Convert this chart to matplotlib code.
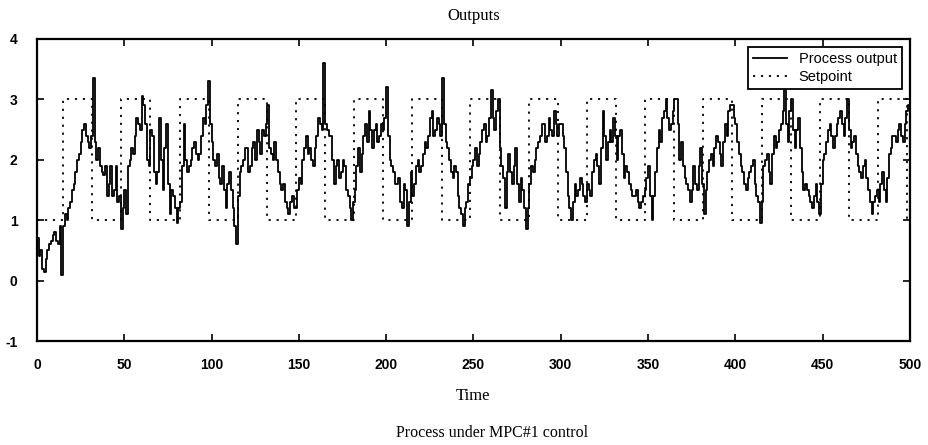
import numpy as np
import matplotlib
matplotlib.use("Agg")
import matplotlib.pyplot as plt

# process output: even time steps ...
t_even = np.arange(0, 501, 2)
y_even = [
    0.7, 0.5, 0.15, 0.5, 0.65, 0.8, 0.6, 0.1, 1.1, 1.2,
    1.5, 1.8, 2.1, 2.5, 2.4, 2.2, 3.35, 2.0, 1.9, 1.75,
    1.4, 1.9, 1.5, 1.3, 0.85, 1.5, 1.9, 2.2, 2.4, 2.6,
    3.05, 2.6, 1.9, 2.4, 1.6, 2.7, 1.5, 2.6, 1.1, 1.4,
    0.95, 1.3, 2.6, 1.8, 2.0, 2.3, 2.0, 2.4, 2.6, 3.3,
    2.3, 1.9, 1.7, 1.9, 1.2, 1.8, 1.2, 0.6, 1.8, 2.0,
    2.2, 1.9, 2.3, 2.5, 2.1, 2.4, 2.9, 2.1, 2.3, 1.8,
    1.5, 1.3, 1.1, 1.4, 1.2, 1.7, 2.0, 2.4, 2.2, 1.9,
    2.4, 2.6, 3.6, 2.5, 2.4, 1.6, 2.0, 1.8, 1.9, 1.4,
    1.0, 1.5, 2.2, 2.1, 2.6, 2.8, 2.2, 2.6, 2.4, 2.5,
    3.2, 2.0, 1.8, 1.6, 1.3, 1.6, 0.9, 1.8, 1.6, 2.0,
    1.9, 2.3, 2.4, 2.8, 2.5, 2.6, 3.35, 2.3, 2.0, 1.7,
    1.8, 1.2, 0.9, 1.3, 1.7, 2.0, 1.9, 2.3, 2.6, 2.4,
    3.15, 2.5, 3.0, 1.9, 1.2, 2.1, 1.6, 2.2, 1.3, 1.5,
    0.85, 1.6, 1.8, 2.2, 2.4, 2.6, 2.4, 2.5, 2.8, 2.4,
    2.6, 2.2, 1.4, 1.0, 1.6, 1.5, 1.6, 1.3, 1.5, 1.8,
    2.1, 1.6, 2.8, 2.0, 2.5, 2.7, 2.0, 2.5, 1.7, 1.8,
    1.5, 1.4, 1.3, 1.3, 1.5, 1.9, 1.0, 1.8, 2.5, 2.7,
    3.0, 2.5, 2.8, 3.0, 2.0, 1.9, 1.6, 1.3, 1.9, 1.5,
    2.2, 1.1, 1.8, 2.1, 2.2, 2.3, 1.9, 2.6, 2.8, 2.9,
    2.6, 2.1, 1.8, 1.5, 1.8, 2.0, 1.4, 0.95, 1.9, 2.1,
    1.6, 2.4, 2.3, 2.6, 3.2, 2.3, 3.0, 2.2, 2.7, 1.8,
    1.6, 1.4, 1.2, 1.6, 1.1, 2.0, 2.3, 2.6, 2.2, 2.6,
    2.8, 2.4, 3.0, 2.2, 2.4, 1.9, 1.7, 2.0, 1.5, 1.1,
    1.4, 1.3, 1.8, 1.3, 2.1, 2.4, 2.3, 2.6, 2.3, 2.8,
    3.0,
]
# ... and odd time steps
t_odd = np.arange(1, 500, 2)
y_odd = [
    0.4, 0.2, 0.35, 0.6, 0.75, 0.65, 0.9, 0.9, 1.0, 1.3,
    1.6, 2.0, 2.3, 2.6, 2.3, 2.4, 2.3, 2.2, 1.8, 1.9,
    1.6, 1.4, 1.9, 1.4, 1.2, 1.1, 2.0, 2.1, 2.7, 2.5,
    2.9, 2.0, 2.5, 1.8, 1.8, 2.0, 2.2, 1.6, 1.5, 1.2,
    1.2, 1.9, 2.0, 1.9, 2.2, 2.1, 2.1, 2.7, 2.9, 2.6,
    2.0, 2.1, 1.6, 1.5, 1.6, 1.5, 0.9, 1.4, 1.9, 2.2,
    1.8, 2.2, 2.0, 2.3, 2.5, 2.6, 2.2, 2.0, 2.0, 1.6,
    1.6, 1.2, 1.3, 1.2, 1.5, 1.6, 2.2, 2.1, 2.0, 2.2,
    2.7, 2.5, 2.6, 2.4, 2.0, 1.9, 1.7, 2.0, 1.5, 1.2,
    1.3, 1.9, 1.8, 2.4, 2.3, 2.5, 2.5, 2.3, 2.6, 2.7,
    2.4, 1.9, 1.6, 1.7, 1.2, 1.5, 1.3, 1.4, 1.9, 1.8,
    2.1, 2.2, 2.7, 2.4, 2.7, 2.4, 2.6, 2.2, 1.8, 1.9,
    1.4, 1.1, 1.2, 1.6, 1.9, 2.2, 2.1, 2.5, 2.3, 2.7,
    2.7, 2.8, 2.2, 1.7, 1.8, 1.8, 1.9, 1.6, 1.7, 1.2,
    1.2, 1.9, 2.0, 2.3, 2.6, 2.3, 2.7, 2.4, 2.6, 2.6,
    2.4, 1.8, 1.2, 1.3, 1.4, 1.7, 1.4, 1.6, 1.4, 2.0,
    1.9, 2.2, 2.4, 2.3, 2.3, 2.4, 2.4, 2.1, 1.9, 1.6,
    1.4, 1.5, 1.2, 1.4, 1.7, 1.4, 1.4, 2.2, 2.3, 2.8,
    2.7, 2.6, 3.0, 2.6, 2.3, 1.7, 1.5, 1.5, 1.6, 1.9,
    1.6, 1.5, 2.0, 1.9, 2.4, 2.1, 2.3, 2.4, 2.9, 2.7,
    2.3, 1.9, 1.6, 1.7, 1.9, 1.6, 1.3, 1.3, 2.0, 1.8,
    2.1, 2.2, 2.5, 2.8, 2.6, 2.8, 2.5, 2.5, 2.2, 1.5,
    1.5, 1.3, 1.4, 1.3, 1.6, 2.1, 2.5, 2.4, 2.4, 2.7,
    2.6, 2.7, 2.5, 2.3, 2.1, 1.8, 1.9, 1.7, 1.3, 1.3,
    1.5, 1.6, 1.5, 1.7, 2.2, 2.4, 2.5, 2.4, 2.6, 2.9,
]

# setpoint switching times and levels
sp_t = [0, 15, 31.7, 48.3, 65, 81.7, 98.3, 115, 131.7, 148.3,
        165, 181.7, 198.3, 215, 231.7, 248.3, 265, 281.7, 298.3, 315,
        331.7, 348.3, 365, 381.7, 398.3, 415, 431.7, 448.3, 465, 481.7,
        498.3, 500]
sp_v = [1, 3, 1, 3, 1, 3, 1, 3, 1, 3,
        1, 3, 1, 3, 1, 3, 1, 3, 1, 3,
        1, 3, 1, 3, 1, 3, 1, 3, 1, 3,
        1, 1]

x_ticks = [0, 50, 100, 150, 200, 250, 300, 350, 400, 450, 500]
y_ticks = [-1, 0, 1, 2, 3, 4]

t_out = np.concatenate([t_even, t_odd])
y_out = np.concatenate([y_even, y_odd])
order = np.argsort(t_out)
t_out, y_out = t_out[order], y_out[order]

plt.rcParams['font.family'] = ['Liberation Sans', 'DejaVu Sans']
plt.rcParams['axes.unicode_minus'] = False

fig = plt.figure(figsize=(9.29, 4.45), dpi=100)
ax = fig.add_axes([0.0398, 0.2337, 0.9397, 0.6787])

ax.plot(t_out, y_out, color='black', lw=1.3, drawstyle='steps-post',
        label='Process output')
ax.step(sp_t, sp_v, where='post', color='black', lw=1.3, dashes=(1.2, 3.2),
        label='Setpoint')

ax.set_xlim(0, 500)
ax.set_ylim(-1, 4)
ax.set_xticks(x_ticks)
ax.set_yticks(y_ticks)
ax.tick_params(direction='in', top=True, right=True, length=5, width=1.2,
               labelsize=10, pad=12)
ax.tick_params(axis='y', pad=14)
for lab in ax.get_xticklabels() + ax.get_yticklabels():
    lab.set_fontweight('bold')
for sp in ax.spines.values():
    sp.set_linewidth(1.6)

ax.set_title('Outputs', family='Liberation Serif', fontsize=12, pad=14)
ax.set_xlabel('Time', family='Liberation Serif', fontsize=12, labelpad=12)
fig.text(0.53, 0.018, 'Process under MPC#1 control', family='Liberation Serif',
         fontsize=11.5, ha='center')

leg = ax.legend(loc='upper right', fontsize=10.5, frameon=True, fancybox=False,
                edgecolor='black', borderaxespad=0.55, handlelength=2.3,
                borderpad=0.35, labelspacing=0.25, framealpha=1)
leg.get_frame().set_linewidth(1.3)

fig.savefig('out.png', dpi=100)
